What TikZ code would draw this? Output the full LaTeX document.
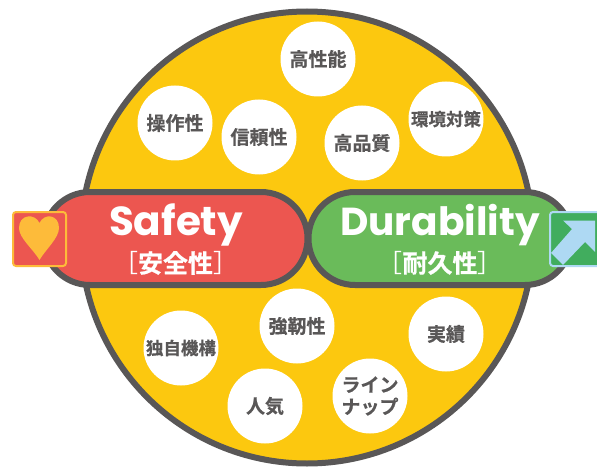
\documentclass[tikz,border=0pt]{standalone}
\usepackage{fontspec}
\setmainfont{Poppins}
\newfontfamily\cjkfont{Noto Sans CJK JP}[BoldFont={* Bold}, BoldFeatures={FakeBold=0.6}]
\usetikzlibrary{shapes.misc}
\definecolor{ringgray}{HTML}{595757}
\definecolor{discyellow}{HTML}{FCC80F}
\definecolor{safetyred}{HTML}{EC5650}
\definecolor{durablegreen}{HTML}{6ABB5A}
\definecolor{heartorange}{HTML}{FDBB3A}
\definecolor{boxgreen}{HTML}{41AD5E}
\definecolor{arrowblue}{HTML}{AED9F3}
\tikzset{
  bubble/.style={circle, fill=white, minimum size=75pt, inner sep=0pt, align=center,
    text=ringgray, font=\cjkfont\bfseries\fontsize{19pt}{22pt}\selectfont},
  smallbubble/.style={bubble, font=\cjkfont\bfseries\fontsize{17.5pt}{21pt}\selectfont},
  pill/.style={rounded rectangle, draw=ringgray, line width=6pt, minimum height=93pt, inner sep=0pt},
  title/.style={text=white, inner sep=0pt, font=\bfseries\fontsize{39pt}{39pt}\selectfont},
  subtitle/.style={text=white, inner sep=0pt, font=\cjkfont\bfseries\fontsize{25pt}{25pt}\selectfont},
  iconbox/.style={rounded corners=3pt, line width=2pt},
}
\newcommand{\thinbracket}[1]{{\mdseries #1}}
\begin{document}
\begin{tikzpicture}[x=1pt, y=-1pt]
  \useasboundingbox (0,0) rectangle (597,468);
  \clip (0,0) rectangle (597,468);

  % Disc
  \node (disc) at (307,237.5) [circle, draw=ringgray, fill=discyellow, line width=6pt, minimum size=452pt, inner sep=0pt] {};

  % Upper qualities
  \node[bubble] (performance) at (318,59) {高性能};
  \node[bubble] (operation) at (175,123) {操作性};
  \node[bubble] (reliability) at (259,137) {信頼性};
  \node[bubble] (quality) at (362,143) {高品質};
  \node[smallbubble] (ecology) at (446,119) {環境対策};

  % Lower qualities
  \node[smallbubble] (mechanism) at (181,348) {独自機構};
  \node[bubble] (toughness) at (297,326) {強靭性};
  \node[bubble] (record) at (446,334) {実績};
  \node[bubble] (popularity) at (265,406) {人気};
  \node[bubble] (lineup) at (370,396) {ライン\\ナップ};

  % Pills
  \node[pill, fill=safetyred, minimum width=264pt] (safety) at (175.5,238.5) {};
  \node[pill, fill=durablegreen, minimum width=263pt] (durability) at (440,238.5) {};
  \node[title, font=\bfseries\fontsize{40.5pt}{40pt}\selectfont] (safetytext) at (176,225) {Safety};
  \node[subtitle] (safetysub) at (175.5,263) {\thinbracket{［}安全性\thinbracket{］}};
  \node[title] (durabilitytext) at (440,225) {Durability};
  \node[subtitle] (durabilitysub) at (440,263) {\thinbracket{［}耐久性\thinbracket{］}};

  % Icons
  \draw[iconbox, draw=heartorange, fill=safetyred] (13,212) rectangle (66,266);
  \fill[heartorange] (39.5,260) .. controls (33,249) and (19,238) .. (19,228)
    .. controls (19,214) and (35,213) .. (39.5,223)
    .. controls (44,213) and (59,214) .. (59,228)
    .. controls (59,238) and (46,249) .. (39.5,260) -- cycle;
  \draw[iconbox, draw=arrowblue, fill=boxgreen] (550,212) rectangle (610,266);
  \fill[arrowblue] (563,220.5) -- (595,220.5) -- (595,252) -- (585,242) -- (563,265) -- (551,253) -- (572,229) -- cycle;
\end{tikzpicture}
\end{document}
